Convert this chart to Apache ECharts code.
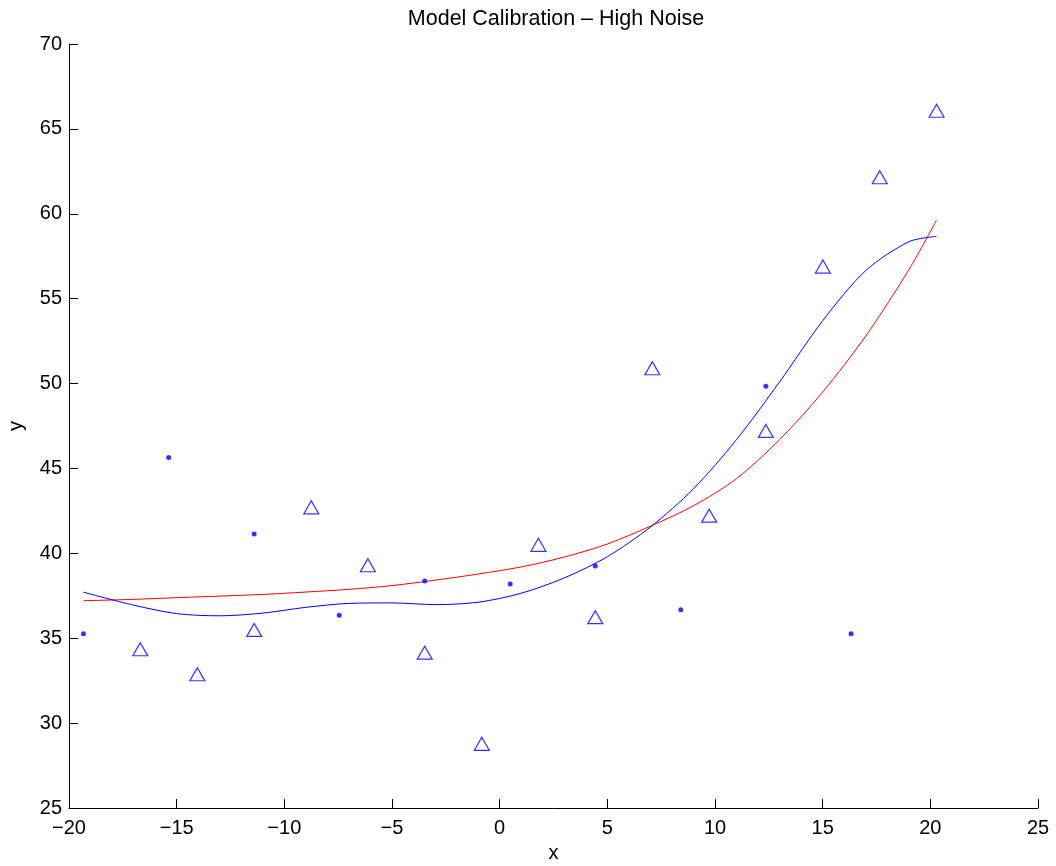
<!DOCTYPE html>
<html>
<head>
<meta charset="utf-8">
<script src="https://cdn.jsdelivr.net/npm/echarts@6/dist/echarts.min.js"></script>
<style>html,body{margin:0;padding:0;background:#fff}#c{width:1056px;height:866px}</style>
</head>
<body>
<div id="c"></div>
<script>
const titleText = 'Model Calibration – High Noise';
const xTicks = [-20, -15, -10, -5, 0, 5, 10, 15, 20, 25];
const yTicks = [25, 30, 35, 40, 45, 50, 55, 60, 65, 70];

const dotX = [-19.33, -15.37, -11.40, -7.45, -3.48, 0.49, 4.44, 8.41, 12.36, 16.32];
const dotY = [35.27, 45.64, 41.14, 36.35, 38.37, 38.20, 39.26, 36.68, 49.84, 35.27];

const triX = [-16.69, -14.04, -11.40, -8.75, -6.12, -3.48, -0.83, 1.80, 4.44, 7.09, 9.73, 12.36, 15.01, 17.65, 20.29];
const triY = [34.35, 32.88, 35.49, 42.71, 39.30, 34.15, 28.78, 40.50, 36.24, 50.90, 42.22, 47.21, 56.89, 62.15, 66.07];

const curveX = [-19.33, -17, -15, -13, -11, -9, -7, -5, -3, -1, 1, 3, 5, 7, 9, 11, 13, 15, 17, 19, 20.29];
const redY  = [37.21, 37.29, 37.39, 37.48, 37.58, 37.72, 37.88, 38.10, 38.42, 38.78, 39.20, 39.78, 40.55, 41.60, 42.80, 44.40, 46.70, 49.50, 52.80, 56.70, 59.63];
const blueY = [37.71, 36.95, 36.45, 36.32, 36.48, 36.82, 37.05, 37.08, 36.98, 37.12, 37.65, 38.55, 39.80, 41.55, 43.80, 46.70, 50.10, 53.70, 56.65, 58.35, 58.67];

const zip = (a, b) => a.map((v, i) => [v, b[i]]);
const fmt = v => String(v).replace('-', '\u2212');
const FONT = 'Liberation Sans, Arial, Helvetica, sans-serif';

const chart = echarts.init(document.getElementById('c'), null, {renderer: 'canvas'});
chart.setOption({
  animation: false,
  backgroundColor: '#ffffff',
  graphic: [{
    type: 'text', x: 556, y: 19,
    style: {text: titleText, align: 'center', verticalAlign: 'middle', fill: '#000', font: '21.5px ' + FONT}
  }],
  grid: {left: 69, right: 18, top: 44, bottom: 58, containLabel: false, outerBoundsMode: 'none'},
  xAxis: {
    type: 'value', min: xTicks[0], max: xTicks[xTicks.length - 1], interval: 5,
    name: 'x', nameLocation: 'middle', nameGap: 35,
    nameTextStyle: {color: '#000', fontSize: 20, fontFamily: FONT},
    axisLine: {show: true, onZero: false, lineStyle: {color: '#000', width: 1}},
    axisTick: {show: true, inside: true, length: 9, lineStyle: {color: '#000'}},
    axisLabel: {color: '#000', fontSize: 20, fontFamily: FONT, margin: 10, formatter: fmt},
    splitLine: {show: false}
  },
  yAxis: {
    type: 'value', min: yTicks[0], max: yTicks[yTicks.length - 1], interval: 5,
    name: 'y', nameLocation: 'middle', nameGap: 43,
    nameTextStyle: {color: '#000', fontSize: 20, fontFamily: FONT},
    axisLine: {show: true, onZero: false, lineStyle: {color: '#000', width: 1}},
    axisTick: {show: true, inside: true, length: 9, lineStyle: {color: '#000'}},
    axisLabel: {color: '#000', fontSize: 20, fontFamily: FONT, margin: 7, formatter: fmt},
    splitLine: {show: false}
  },
  series: [
    {
      type: 'line', data: zip(curveX, redY), smooth: 0.3, showSymbol: false,
      lineStyle: {color: '#ff0000', width: 1}, z: 2
    },
    {
      type: 'line', data: zip(curveX, blueY), smooth: 0.3, showSymbol: false,
      lineStyle: {color: '#0000ff', width: 1}, z: 3
    },
    {
      type: 'scatter', data: zip(dotX, dotY), symbol: 'circle', symbolSize: 5,
      itemStyle: {color: '#0000ff'}, z: 4
    },
    {
      type: 'scatter', data: zip(triX, triY), symbol: 'triangle', symbolSize: [15, 13],
      itemStyle: {color: 'rgba(0,0,0,0)', borderColor: '#0000ff', borderWidth: 1.2}, z: 4
    }
  ]
});
</script>
</body>
</html>
